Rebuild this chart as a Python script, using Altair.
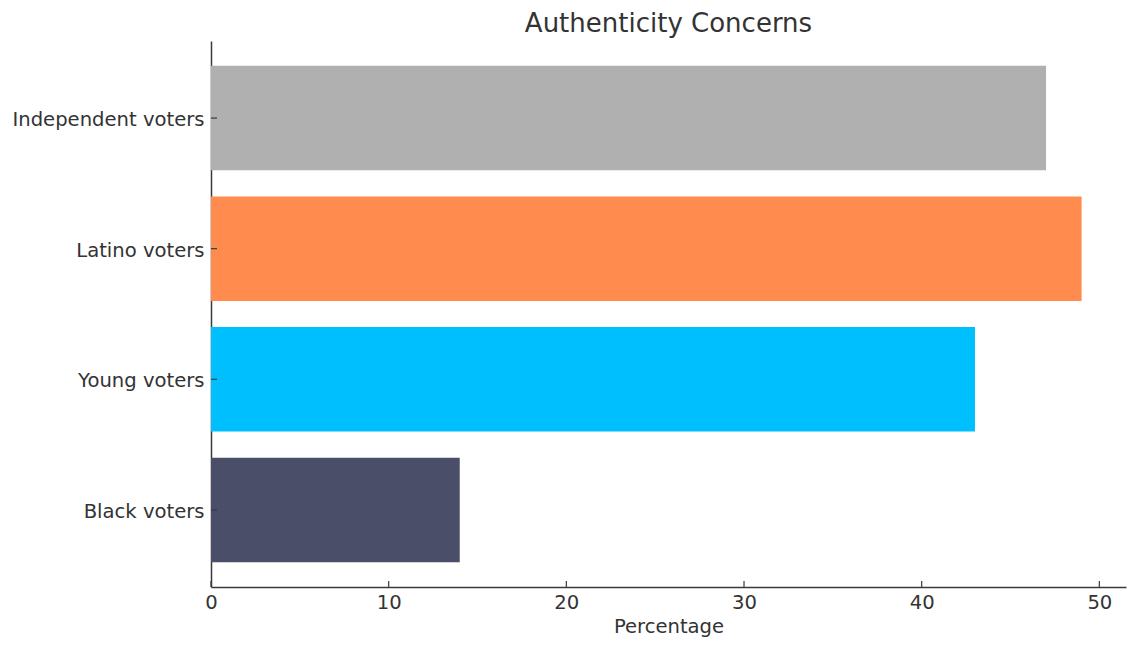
import altair as alt
import pandas as pd

categories = ["Independent voters", "Latino voters", "Young voters", "Black voters"]
values = [47, 49, 43, 14]
colors = ["#b0b0b0", "#ff8b4e", "#00bfff", "#4a4e69"]
x_ticks = [0, 10, 20, 30, 40, 50]

W, H = 915, 546

df = pd.DataFrame({"group": categories, "pct": values})
ticks_df = pd.DataFrame({"t": x_ticks})

FONT = "DejaVu Sans"
TXT = "#333333"
AX = "#3a3a3a"
FS = 19.6

yscale = alt.Scale(domain=categories, paddingInner=0.2, paddingOuter=0.19)
xscale = alt.Scale(domain=[0, 51.5], nice=False, zero=True)

y_axis = alt.Axis(title=None, labelFontSize=FS, labelColor=TXT, labelFont=FONT,
                  ticks=False, tickSize=0, labelPadding=7, domainColor=AX,
                  domainWidth=1.5, grid=False, labelLimit=400, labelOffset=2)
x_axis = alt.Axis(title="Percentage", values=x_ticks, labelFontSize=FS, labelColor=TXT,
                  labelFont=FONT, ticks=False, tickSize=0, labelPadding=6,
                  labelFlush=False,
                  domainColor=AX, domainWidth=1.5, grid=False,
                  titleFont=FONT, titleFontSize=FS, titleColor=TXT,
                  titleFontWeight="normal", titlePadding=6)

bars = alt.Chart(df).mark_bar().encode(
    y=alt.Y("group:N", scale=yscale, sort=categories, axis=y_axis),
    x=alt.X("pct:Q", scale=xscale, axis=x_axis),
    color=alt.Color("group:N", scale=alt.Scale(domain=categories, range=colors), legend=None),
)

xt = alt.Chart(ticks_df).mark_rule(color=AX, strokeWidth=1.2).encode(
    x=alt.X("t:Q", scale=xscale, axis=x_axis),
    y=alt.value(H - 6),
    y2=alt.value(H),
)

yt = alt.Chart(df).mark_rule(color=AX, strokeWidth=1.2).encode(
    y=alt.Y("group:N", scale=yscale, sort=categories, axis=y_axis),
    x=alt.value(0),
    x2=alt.value(6),
)

chart = alt.layer(bars, xt, yt).properties(
    width=W, height=H,
    title=alt.TitleParams("Authenticity Concerns", font=FONT, fontSize=26, color=TXT,
                          fontWeight="normal", anchor="middle", offset=4),
    autosize=alt.AutoSizeParams(type="none"),
    padding={"left": 203, "top": 33, "right": 3, "bottom": 55},
).configure(background="white", view=alt.ViewConfig(stroke=None))

chart.save("out.html", embed_options={"renderer": "svg", "actions": False})
